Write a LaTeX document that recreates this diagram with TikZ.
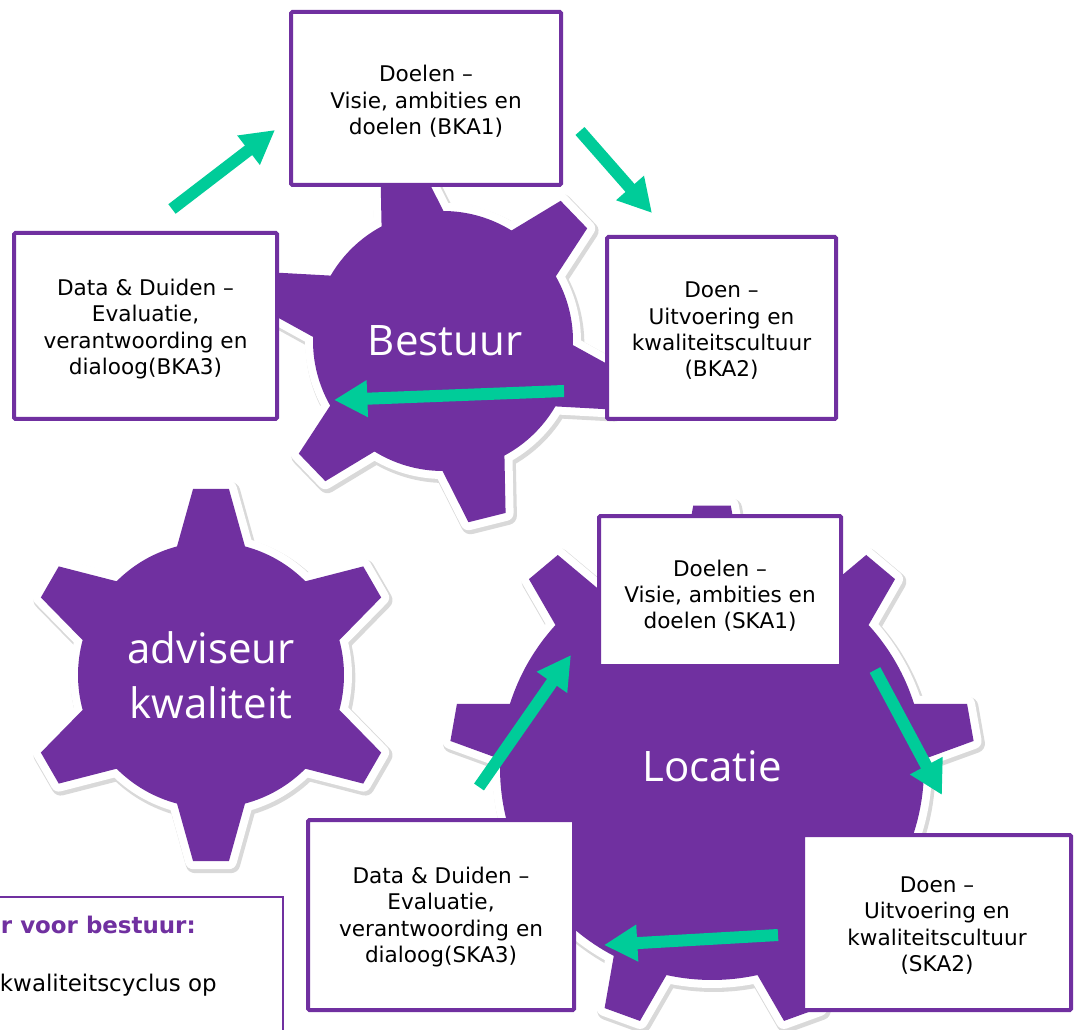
\documentclass[tikz,border=0pt]{standalone}
\usepackage{fontspec}
\setmainfont{DejaVu Sans}
\newfontfamily\gearfont{Open Sans}
\usetikzlibrary{arrows.meta}
\definecolor{kpurple}{RGB}{112,48,160}
\definecolor{kgreen}{RGB}{0,204,153}
\newcommand\gearpath[1]{%
  \path[#1,shift={(\gx,\gy)}] ({\gs-\gdb}:\gR)
  \foreach \i in {0,...,\gn}{
    -- ({\gs+\i*\gst-\gdb}:\gR) -- ({\gs+\i*\gst-\gdt}:\gT)
    -- ({\gs+\i*\gst+\gdt}:\gT) -- ({\gs+\i*\gst+\gdb}:\gR)
    arc[start angle={\gs+\i*\gst+\gdb}, end angle={\gs+(\i+1)*\gst-\gdb}, radius=\gR]
  } -- cycle;}
\newcommand\drawgear{\gearpath{gearshadow}\gearpath{gearwhite}\gearpath{gearfill}}
\tikzset{
  gearshadow/.style={draw=black, draw opacity=0.15, line width=14pt, line join=round, xshift=1.5pt, yshift=-2pt},
  gearwhite/.style={draw=white, line width=12pt, line join=round},
  gearfill/.style={fill=kpurple},
  gearlabel/.style={text=white, align=center, inner sep=0pt, font=\gearfont\fontsize{31.5}{41}\selectfont},
  kbox/.style={draw=kpurple, line width=3pt, fill=white, inner sep=0pt, rounded corners=1pt},
  boxtext/.style={align=center, inner sep=0pt, font=\fontsize{16.2}{19.8}\selectfont},
  garrow/.style={draw=kgreen, line width=9pt, -{Triangle[length=25pt,width=26pt]}},
}
\begin{document}
\begin{tikzpicture}[x=0.75pt,y=-0.75pt]
\useasboundingbox (0,0) rectangle (1078,1030);
\clip (0,0) rectangle (1078,1030);
\fill[white] (0,0) rectangle (1078,1030);
% Bestuur gear
\def\gx{443}\def\gy{341}\def\gR{130}\def\gT{183}\def\gdb{14.2}\def\gdt{6}\def\gs{-104}\def\gst{60}\def\gn{5}
\drawgear
% adviseur gear
\def\gx{211}\def\gy{675}\def\gR{133}\def\gT{187}\def\gdb{14.8}\def\gdt{5.5}\def\gs{-90}\def\gst{60}\def\gn{5}
\drawgear
% Locatie gear
\def\gx{712}\def\gy{768}\def\gR{212}\def\gT{263}\def\gdb{7.6}\def\gdt{4.1}\def\gs{-90}\def\gst{40}\def\gn{8}
\drawgear
% gear labels
\node[gearlabel] (bestuur) at (445,341) {Bestuur};
\node[gearlabel] (adviseur) at (211,675) {adviseur\\kwaliteit};
\node[gearlabel] (locatie) at (712,766) {Locatie};
% boxes
\node[kbox, minimum width=270*0.75pt, minimum height=173*0.75pt] (bka1) at (426,98.5) {};
\node[kbox, minimum width=263*0.75pt, minimum height=186*0.75pt] (bka3) at (145.5,326) {};
\node[kbox, minimum width=229*0.75pt, minimum height=182*0.75pt] (bka2) at (721.5,328) {};
\node[kbox, minimum width=242*0.75pt, minimum height=150*0.75pt] (ska1) at (720,591) {};
\node[kbox, minimum width=266*0.75pt, minimum height=190*0.75pt] (ska3) at (441,915) {};
\node[kbox, minimum width=268*0.75pt, minimum height=175*0.75pt] (ska2) at (937,922.5) {};
\node[boxtext] (bka1t) at ([yshift=-2.2pt]bka1.center) {Doelen –\\Visie, ambities en\\doelen (BKA1)};
\node[boxtext] (bka3t) at ([yshift=-2.2pt]bka3.center) {Data \& Duiden –\\Evaluatie,\\verantwoording en\\dialoog(BKA3)};
\node[boxtext] (bka2t) at ([yshift=-2.2pt]bka2.center) {Doen –\\Uitvoering en\\kwaliteitscultuur\\(BKA2)};
\node[boxtext] (ska1t) at ([yshift=-3.5pt]ska1.center) {Doelen –\\Visie, ambities en\\doelen (SKA1)};
\node[boxtext] (ska3t) at ([yshift=-1.5pt]ska3.center) {Data \& Duiden –\\Evaluatie,\\verantwoording en\\dialoog(SKA3)};
\node[boxtext] (ska2t) at ([yshift=-2.2pt]ska2.center) {Doen –\\Uitvoering en\\kwaliteitscultuur\\(SKA2)};
% arrows
\coordinate (a1s) at (172,209); \coordinate (a1e) at (275,130);
\coordinate (a2s) at (580,131); \coordinate (a2e) at (652,213);
\coordinate (a3s) at (564,391); \coordinate (a3e) at (334,400);
\coordinate (a4s) at (479,787); \coordinate (a4e) at (571,655);
\coordinate (a5s) at (875,670); \coordinate (a5e) at (942,795);
\coordinate (a6s) at (778,935); \coordinate (a6e) at (604,945);
\draw[garrow] (a1s) -- (a1e);
\draw[garrow] (a2s) -- (a2e);
\draw[garrow] (a3s) -- (a3e);
\draw[garrow] (a4s) -- (a4e);
\draw[garrow] (a5s) -- (a5e);
\draw[garrow] (a6s) -- (a6e);
% bottom-left text box
\draw[kpurple, fill=white, line width=1.1pt] (-20,897) rectangle (283,1060);
\node[anchor=base east, inner sep=0pt, text=kpurple, font=\bfseries\fontsize{17.2}{20}\selectfont] (advtitle) at (196,933) {r voor bestuur:};
\node[anchor=base east, inner sep=0pt, font=\fontsize{17.2}{20}\selectfont] (advtext) at (217,991) {kwaliteitscyclus op};
\end{tikzpicture}
\end{document}
